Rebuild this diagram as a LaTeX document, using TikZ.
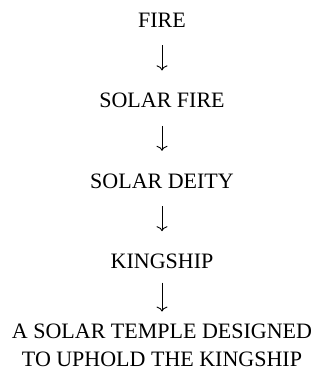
\documentclass[tikz,border=0pt]{standalone}
\usepackage{fontspec}
\setmainfont{Liberation Serif}
\usepackage{xcolor}
\usepackage{tikz}
\usetikzlibrary{arrows.meta,positioning}
\definecolor{ink}{HTML}{000000}
\tikzset{
  stage/.style ={inner sep=0pt,text height=14pt,text depth=0pt,align=center,
                 text=ink,font=\fontsize{22}{28}\selectfont},
  lead/.style  ={-{Computer Modern Rightarrow[length=5pt,width=11pt]},line width=0.9pt,
                 draw=ink,shorten <=18pt,shorten >=23pt}
}
\begin{document}
\begin{tikzpicture}[x=1pt,y=1pt,node distance=66pt]
    \useasboundingbox (0,0) rectangle (320,-388);
    \node[stage,anchor=north] (fire) at (162,-13) {FIRE};
    \node[stage,below=of fire] (sfire) {SOLAR FIRE};
    \node[stage,below=of sfire] (deity) {SOLAR DEITY};
    \node[stage,below=of deity] (king) {KINGSHIP};
    \node[stage,text height=42pt,below=56pt of king] (temple) {A SOLAR TEMPLE DESIGNED\\TO UPHOLD THE KINGSHIP};
    \draw[lead] (fire) -- (sfire); \draw[lead] (sfire) -- (deity); \draw[lead] (deity) -- (king);
    \draw[lead,shorten <=14pt,shorten >=13pt] (king) -- (temple);
  \end{tikzpicture}
\end{document}
